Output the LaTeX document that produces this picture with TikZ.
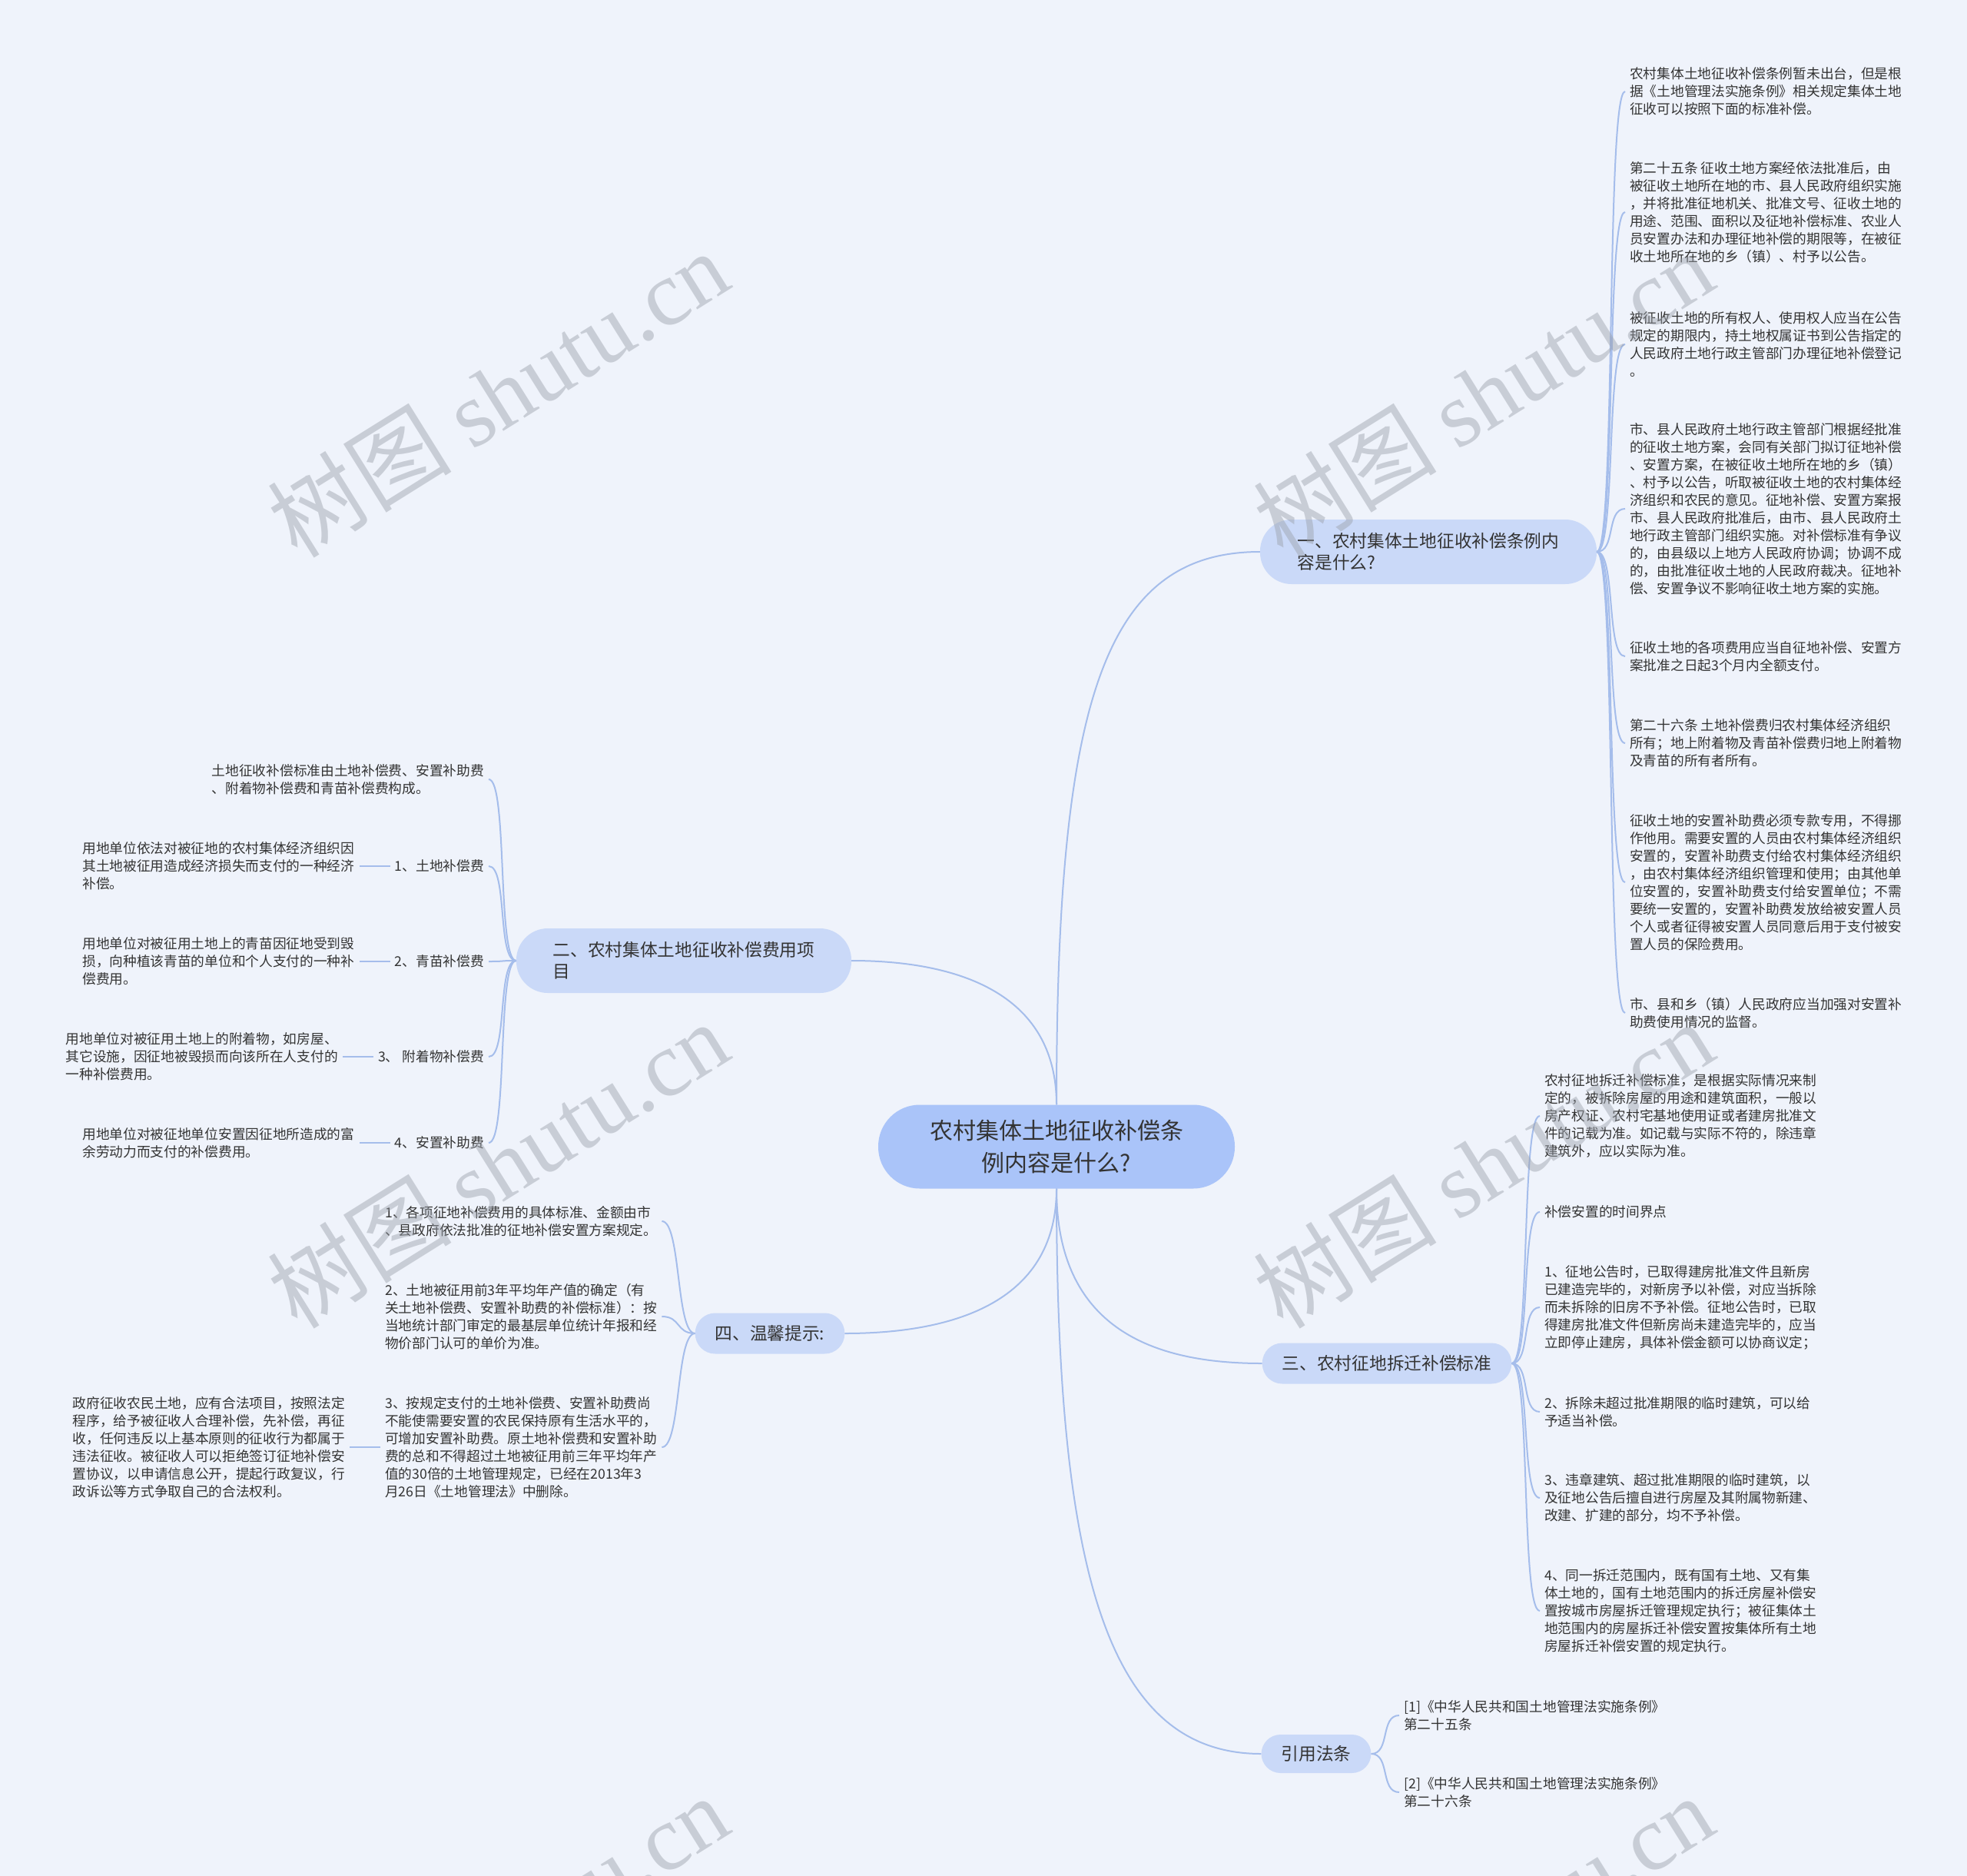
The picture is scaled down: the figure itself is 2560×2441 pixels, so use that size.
\documentclass[tikz,border=0pt]{standalone}
\usepackage{fontspec}
\setmainfont{Noto Sans CJK SC}
\newfontfamily\wmserif{Liberation Serif}
\usetikzlibrary{positioning}
\definecolor{paper}{HTML}{EFF3FB}
\definecolor{rootfill}{HTML}{AAC4F9}
\definecolor{branchfill}{HTML}{CAD9F8}
\definecolor{wire}{HTML}{A5BDEB}
\definecolor{ink}{HTML}{333333}
\definecolor{wmgray}{HTML}{9AA0AA}

\begin{document}
\begin{tikzpicture}[
  x=1pt, y=-1pt,
  node distance=40pt,
  root/.style={fill=rootfill, rounded corners=54pt, minimum width=464pt,
               minimum height=109pt, align=center, text=ink,
               font=\fontsize{30}{42}\selectfont},
  branch/.style={fill=branchfill, rounded corners=26pt, minimum height=53pt,
                 inner xsep=26pt, align=left, text=ink,
                 font=\fontsize{22.7}{28}\selectfont},
  leaf/.style={inner sep=6pt, align=left, text=ink,
               font=\fontsize{17.7}{23}\selectfont},
  link/.style={draw=wire, line width=2pt},
  wmark/.style={text=wmgray, opacity=0.45, rotate=32,
                font=\fontsize{120}{120}\selectfont}
]
  \useasboundingbox (0,0) rectangle (2560,2441);
  \fill[paper] (0,0) rectangle (2560,2441);

  % Root
  \node[root] (root) at (1375,1492) {农村集体土地征收补偿条\\例内容是什么?};

  % Branches
  \node[branch, minimum width=438pt, minimum height=84pt, rounded corners=41pt]
    (b1) at (1859,718) {一、农村集体土地征收补偿条例内\\容是什么?};
  \node[branch, minimum width=436pt, minimum height=84pt, rounded corners=41pt]
    (b2) at (890,1250) {二、农村集体土地征收补偿费用项\\目};
  \node[branch] (b3) at (1805,1774) {三、农村征地拆迁补偿标准};
  \node[branch] (b4) at (1002,1735) {四、温馨提示:};
  \node[branch, minimum height=50pt, rounded corners=25pt] (b5) at (1713,2282) {引用法条};

  % Branch one: leaves
  \node[leaf, anchor=west] (r1a) at (2115,119) {农村集体土地征收补偿条例暂未出台，但是根\\据《土地管理法实施条例》相关规定集体土地\\征收可以按照下面的标准补偿。};
  \node[leaf, anchor=west] (r1b) at (2115,276) {第二十五条 征收土地方案经依法批准后，由\\被征收土地所在地的市、县人民政府组织实施\\，并将批准征地机关、批准文号、征收土地的\\用途、范围、面积以及征地补偿标准、农业人\\员安置办法和办理征地补偿的期限等，在被征\\收土地所在地的乡（镇）、村予以公告。};
  \node[leaf, anchor=west] (r1c) at (2115,448) {被征收土地的所有权人、使用权人应当在公告\\规定的期限内，持土地权属证书到公告指定的\\人民政府土地行政主管部门办理征地补偿登记\\。};
  \node[leaf, anchor=west] (r1d) at (2115,662) {市、县人民政府土地行政主管部门根据经批准\\的征收土地方案，会同有关部门拟订征地补偿\\、安置方案，在被征收土地所在地的乡（镇）\\、村予以公告，听取被征收土地的农村集体经\\济组织和农民的意见。征地补偿、安置方案报\\市、县人民政府批准后，由市、县人民政府土\\地行政主管部门组织实施。对补偿标准有争议\\的，由县级以上地方人民政府协调；协调不成\\的，由批准征收土地的人民政府裁决。征地补\\偿、安置争议不影响征收土地方案的实施。};
  \node[leaf, anchor=west] (r1e) at (2115,854) {征收土地的各项费用应当自征地补偿、安置方\\案批准之日起3个月内全额支付。};
  \node[leaf, anchor=west] (r1f) at (2115,967) {第二十六条 土地补偿费归农村集体经济组织\\所有；地上附着物及青苗补偿费归地上附着物\\及青苗的所有者所有。};
  \node[leaf, anchor=west] (r1g) at (2115,1148) {征收土地的安置补助费必须专款专用，不得挪\\作他用。需要安置的人员由农村集体经济组织\\安置的，安置补助费支付给农村集体经济组织\\，由农村集体经济组织管理和使用；由其他单\\位安置的，安置补助费支付给安置单位；不需\\要统一安置的，安置补助费发放给被安置人员\\个人或者征得被安置人员同意后用于支付被安\\置人员的保险费用。};
  \node[leaf, anchor=west] (r1h) at (2115,1318) {市、县和乡（镇）人民政府应当加强对安置补\\助费使用情况的监督。};

  % Branch two: items and their notes
  \node[leaf, anchor=east] (l0) at (636,1014) {土地征收补偿标准由土地补偿费、安置补助费\\、附着物补偿费和青苗补偿费构成。};
  \node[leaf, anchor=east] (s1) at (636,1127) {1、土地补偿费};
  \node[leaf, anchor=east] (s2) at (636,1251) {2、青苗补偿费};
  \node[leaf, anchor=east] (s3) at (636,1375) {3、 附着物补偿费};
  \node[leaf, anchor=east] (s4) at (636,1487) {4、安置补助费};
  \node[leaf, left=of s1] (l1) {用地单位依法对被征地的农村集体经济组织因\\其土地被征用造成经济损失而支付的一种经济\\补偿。};
  \node[leaf, left=of s2] (l2) {用地单位对被征用土地上的青苗因征地受到毁\\损，向种植该青苗的单位和个人支付的一种补\\偿费用。};
  \node[leaf, left=of s3] (l3) {用地单位对被征用土地上的附着物，如房屋、\\其它设施，因征地被毁损而向该所在人支付的\\一种补偿费用。};
  \node[leaf, left=of s4] (l4) {用地单位对被征地单位安置因征地所造成的富\\余劳动力而支付的补偿费用。};

  % Branch three: leaves
  \node[leaf, anchor=west] (r3a) at (2004,1452) {农村征地拆迁补偿标准，是根据实际情况来制\\定的，被拆除房屋的用途和建筑面积，一般以\\房产权证、农村宅基地使用证或者建房批准文\\件的记载为准。如记载与实际不符的，除违章\\建筑外，应以实际为准。};
  \node[leaf, anchor=west] (r3b) at (2004,1577) {补偿安置的时间界点};
  \node[leaf, anchor=west] (r3c) at (2004,1701) {1、征地公告时，已取得建房批准文件且新房\\已建造完毕的，对新房予以补偿，对应当拆除\\而未拆除的旧房不予补偿。征地公告时，已取\\得建房批准文件但新房尚未建造完毕的，应当\\立即停止建房，具体补偿金额可以协商议定；};
  \node[leaf, anchor=west] (r3d) at (2004,1837) {2、拆除未超过批准期限的临时建筑，可以给\\予适当补偿。};
  \node[leaf, anchor=west] (r3e) at (2004,1949) {3、违章建筑、超过批准期限的临时建筑，以\\及征地公告后擅自进行房屋及其附属物新建、\\改建、扩建的部分，均不予补偿。};
  \node[leaf, anchor=west] (r3f) at (2004,2096) {4、同一拆迁范围内，既有国有土地、又有集\\体土地的，国有土地范围内的拆迁房屋补偿安\\置按城市房屋拆迁管理规定执行；被征集体土\\地范围内的房屋拆迁补偿安置按集体所有土地\\房屋拆迁补偿安置的规定执行。};

  % Branch four: tips
  \node[leaf, anchor=west] (f1) at (495,1589) {1、各项征地补偿费用的具体标准、金额由市\\、县政府依法批准的征地补偿安置方案规定。};
  \node[leaf, anchor=west] (f2) at (495,1713) {2、土地被征用前3年平均年产值的确定（有\\关土地补偿费、安置补助费的补偿标准）：按\\当地统计部门审定的最基层单位统计年报和经\\物价部门认可的单价为准。};
  \node[leaf, anchor=west] (f3) at (495,1883) {3、按规定支付的土地补偿费、安置补助费尚\\不能使需要安置的农民保持原有生活水平的，\\可增加安置补助费。原土地补偿费和安置补助\\费的总和不得超过土地被征用前三年平均年产\\值的30倍的土地管理规定，已经在2013年3\\月26日《土地管理法》中删除。};
  \node[leaf, left=of f3] (g) {政府征收农民土地，应有合法项目，按照法定\\程序，给予被征收人合理补偿，先补偿，再征\\收，任何违反以上基本原则的征收行为都属于\\违法征收。被征收人可以拒绝签订征地补偿安\\置协议，以申请信息公开，提起行政复议，行\\政诉讼等方式争取自己的合法权利。};

  % References
  \node[leaf, anchor=west] (ref1) at (1821,2232) {[1]《中华人民共和国土地管理法实施条例》\\第二十五条};
  \node[leaf, anchor=west] (ref2) at (1821,2332) {[2]《中华人民共和国土地管理法实施条例》\\第二十六条};

  % Root to branches
  \draw[link] (root.north) .. controls +(0,-523) and +(-204,0) .. (b1.west);
  \draw[link] (root.north) .. controls +(0,-147) and +(135,0) .. (b2.east);
  \draw[link] (root.south) .. controls +(0,190) and +(-130,0) .. (b3.west);
  \draw[link] (root.south) .. controls +(0,152) and +(134,0) .. (b4.east);
  \draw[link] (root.south) .. controls +(0,500) and +(-200,0) .. (b5.west);

  % Branches to leaves
  \foreach \lf in {r1a,r1b,r1c,r1d,r1e,r1f,r1g,r1h}
    \draw[link] (b1.east) .. controls +(25,0) and +(-25,0) .. (\lf.west);
  \foreach \lf in {l0,s1,s2,s3,s4}
    \draw[link] (b2.west) .. controls +(-25,0) and +(25,0) .. (\lf.east);
  \foreach \lf in {r3a,r3b,r3c,r3d,r3e,r3f}
    \draw[link] (b3.east) .. controls +(25,0) and +(-25,0) .. (\lf.west);
  \foreach \lf in {f1,f2,f3}
    \draw[link] (b4.west) .. controls +(-25,0) and +(25,0) .. (\lf.east);
  \foreach \lf in {ref1,ref2}
    \draw[link] (b5.east) .. controls +(25,0) and +(-25,0) .. (\lf.west);

  % Notes
  \draw[link] (s1.west) -- (l1.east);
  \draw[link] (s2.west) -- (l2.east);
  \draw[link] (s3.west) -- (l3.east);
  \draw[link] (s4.west) -- (l4.east);
  \draw[link] (f3.west) -- (g.east);

  % Watermarks
  \begin{scope}
    \clip (0,0) rectangle (2560,2441);
    \foreach \wx/\wy [count=\i] in {648/512, 1930/512, 648/1515, 1930/1515, 648/2522, 1930/2522}
      \node[wmark] (wm\i) at (\wx,\wy) {树图 {\wmserif shutu.cn}};
  \end{scope}
\end{tikzpicture}
\end{document}
